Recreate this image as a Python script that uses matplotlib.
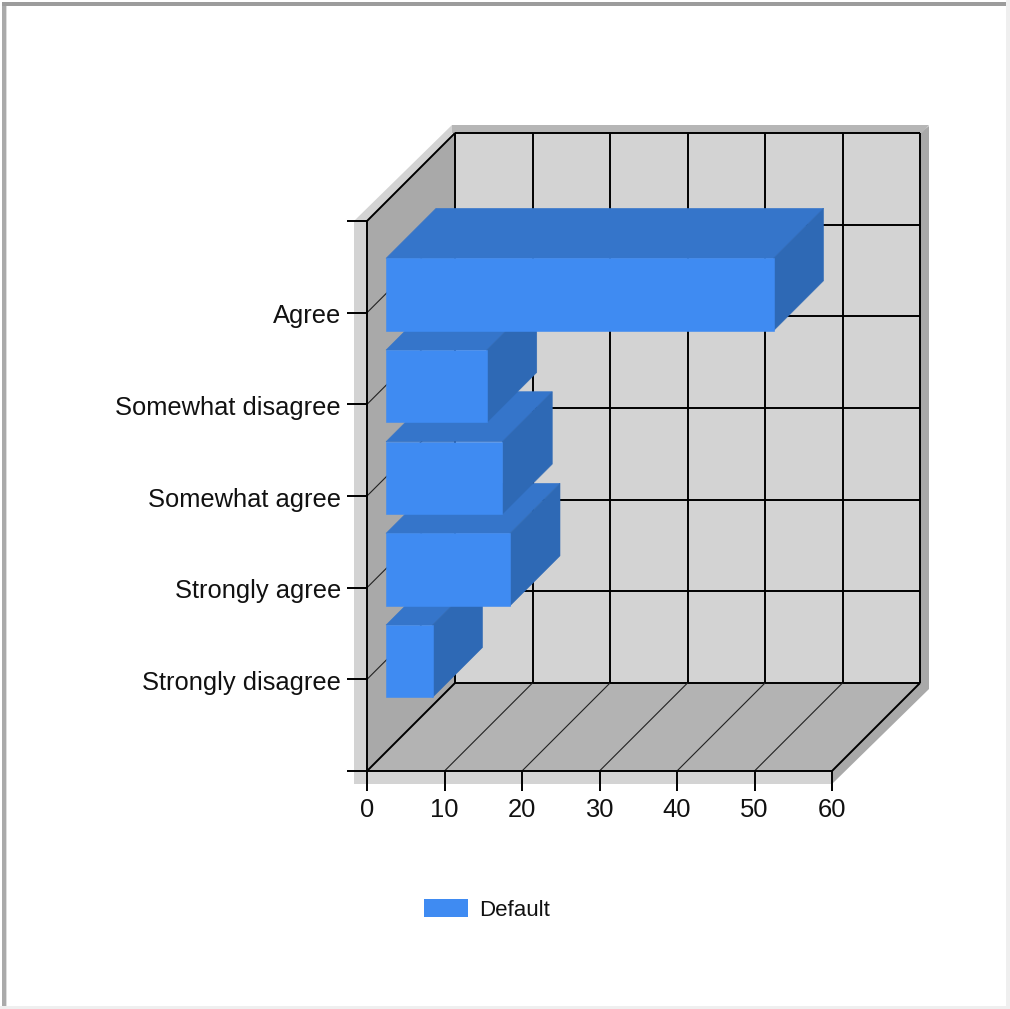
import matplotlib
matplotlib.use("Agg")
import matplotlib.pyplot as plt
from matplotlib.patches import Polygon, Patch, Rectangle
from matplotlib.transforms import ScaledTranslation

categories = ["Strongly disagree", "Strongly agree", "Somewhat agree", "Somewhat disagree", "Agree"]
values = [6, 16, 15, 13, 50]
x_ticks = [0, 10, 20, 30, 40, 50, 60]
series_name = "Default"

W, H = 1010, 1009
plt.rcParams["font.family"] = ["Liberation Sans", "DejaVu Sans"]

fig = plt.figure(figsize=(W / 100, H / 100), dpi=100, facecolor="white")

# chrome layer in pixels: window border and the wall shadow
bg = fig.add_axes([0, 0, 1, 1])
bg.set_xlim(0, W)
bg.set_ylim(H, 0)
bg.axis("off")
bg.add_patch(Rectangle((1006, 0), 4, H, fc="#efefef", ec="none"))
bg.add_patch(Rectangle((0, 1006), W, 3, fc="#efefef", ec="none"))
bg.add_patch(Rectangle((6, 6), 1, 1000, fc="#dddddd", ec="none"))
bg.add_patch(Rectangle((2, 2), 4, 1004, fc="#aaaaaa", ec="none"))
bg.add_patch(Rectangle((2, 2), 1004, 4, fc="#9c9c9c", ec="none"))
bg.add_patch(Polygon([(354, 784), (354, 221), (452, 125), (460, 125), (367, 230), (367, 771), (832, 771), (832, 784)],
                     fc="#d3d3d3", ec="none"))
bg.add_patch(Polygon([(929, 126), (929, 689), (832, 784), (832, 771), (920, 683), (920, 133)],
                     fc="#a9a9a9", ec="none"))
bg.add_patch(Polygon([(452, 125), (929, 125), (922, 133), (452, 133)], fc="#b6b6b6", ec="none"))

# front plane of the chart, everything else is projected from it
ax = fig.add_axes([367 / W, 1 - 771 / H, 465 / W, 550 / H])
ax.set_xlim(0, 60)
ax.set_ylim(0, 6)
ax.patch.set_alpha(0)

DEPTH_X = 88 / 465 * 60
DEPTH_Y = 88 / 550 * 6


def proj(x, y, z):
    return (x + z * DEPTH_X, y + z * DEPTH_Y)


def face(points, color, z, seam=False):
    # seam: thin edge in the face colour so the grid does not show between faces
    ax.add_patch(Polygon([proj(*p) for p in points], fc=color, ec=color if seam else "none", lw=0.4,
                         clip_on=False, zorder=z))


def line(a, b, lw, color="#000000", z=2):
    p, q = proj(*a), proj(*b)
    ax.plot([p[0], q[0]], [p[1], q[1]], color=color, lw=lw, clip_on=False, zorder=z, solid_capstyle="butt")


# walls
face([(0, 0, 1), (60, 0, 1), (60, 6, 1), (0, 6, 1)], "#d3d3d3", 1)
face([(0, 0, 0), (0, 6, 0), (0, 6, 1), (0, 0, 1)], "#a9a9a9", 1)
face([(0, 0, 0), (60, 0, 0), (60, 0, 1), (0, 0, 1)], "#b3b3b3", 1)

# grid
for y in range(7):
    line((0, y, 1), (60, y, 1), 1.4)
    if 0 < y:
        line((0, y, 0), (0, y, 1), 1.4 if y == 6 else 0.8, "#000000" if y == 6 else "#222222")
for x in x_ticks:
    line((x, 0, 1), (x, 6, 1), 1.4)
    line((x, 0, 0), (x, 0, 1), 1.4 if x in (0, 60) else 0.8, "#000000" if x in (0, 60) else "#222222")

# bars, lowest first so the upper ones cover the tops below them
Z0 = 19 / 88
Z1 = 69 / 88
for i, v in enumerate(values):
    c = i + 1
    lo, hi = c - 0.405, c + 0.385
    zo = 3 + i
    face([(0, hi, Z0), (v, hi, Z0), (v, hi, Z1), (0, hi, Z1)], "#3575ca", zo, True)
    face([(v, lo, Z0), (v, hi, Z0), (v, hi, Z1), (v, lo, Z1)], "#2e69b5", zo, True)
    face([(0, lo, Z0), (v, lo, Z0), (v, hi, Z0), (0, hi, Z0)], "#3f8bf2", zo, True)

ax.spines["top"].set_visible(False)
ax.spines["right"].set_visible(False)
ax.spines["left"].set_linewidth(1.4)
ax.spines["bottom"].set_linewidth(1.4)
ax.spines["left"].set_zorder(2.5)
ax.spines["bottom"].set_zorder(2.5)
ax.set_xticks(x_ticks)
ax.set_yticks(range(7))
ax.set_yticklabels([""] + categories + [""])
ax.tick_params(axis="both", length=14.4, width=1.4, labelsize=18.4, color="black", labelcolor="#111111")
ax.tick_params(axis="y", pad=4.3)
ax.tick_params(axis="x", pad=5)

nudge = ScaledTranslation(0, -1 / 100, fig.dpi_scale_trans)
for label in ax.get_yticklabels():
    label.set_transform(label.get_transform() + nudge)

fig.legend(handles=[Patch(fc="#3f8bf2", ec="none", label=series_name)], loc="center left",
           bbox_to_anchor=(424 / W, 1 - 910 / H), frameon=False, fontsize=16, borderpad=0, borderaxespad=0,
           handlelength=1.98, handleheight=0.81, handletextpad=0.5, labelcolor="#111111")

fig.savefig("out.png", dpi=100)
